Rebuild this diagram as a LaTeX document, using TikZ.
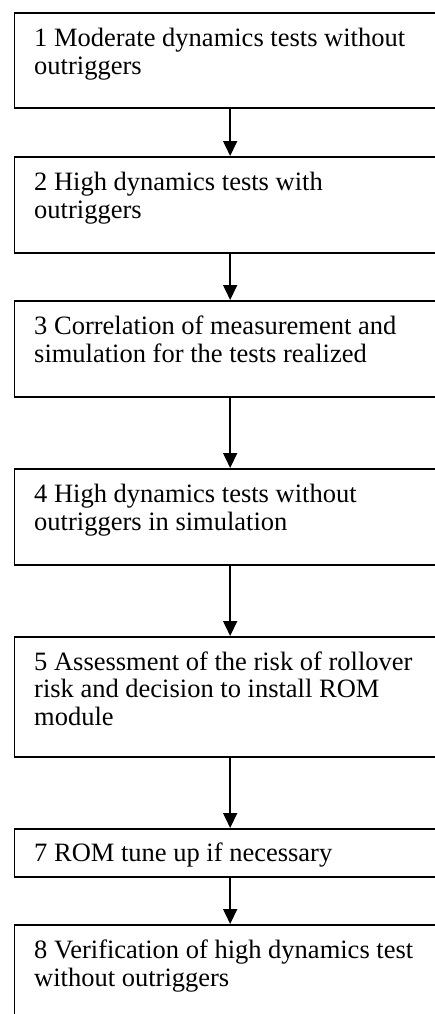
\documentclass[tikz,border=0pt]{standalone}
\usepackage{fontspec}
\setmainfont{Liberation Serif}
\usetikzlibrary{arrows.meta,calc}
\begin{document}
\begin{tikzpicture}[x=1pt,y=-1pt,
  stepbox/.style={draw=black,line width=1.8pt,rectangle,inner sep=0pt,anchor=north west,minimum width=431.5pt},
  steptext/.style={inner sep=0pt,anchor=base west,font=\fontsize{26.5}{28}\selectfont},
  arr/.style={draw=black,line width=1.6pt,-{Triangle[length=15pt,width=14pt]}}]
\useasboundingbox (0,0) rectangle (435,1014);
\clip (0,0) rectangle (435,1014);
\fill[white] (0,0) rectangle (435,1014);
\node[stepbox,minimum height=95pt] (b1) at (13.5,12) {};
\node[stepbox,minimum height=96pt] (b2) at (13.5,156) {};
\node[stepbox,minimum height=96pt] (b3) at (13.5,300) {};
\node[stepbox,minimum height=96pt] (b4) at (13.5,468) {};
\node[stepbox,minimum height=120pt] (b5) at (13.5,636) {};
\node[stepbox,minimum height=48pt] (b7) at (13.5,828) {};
\node[stepbox,minimum height=110pt] (b8) at (13.5,924) {};
\node[steptext] (t1) at ($(b1.north west)+(20.5,35)$) {\parbox[t]{400pt}{\fontsize{26.5}{28}\selectfont 1 Moderate dynamics tests without\\outriggers}};
\node[steptext] (t2) at ($(b2.north west)+(20.5,34)$) {\parbox[t]{400pt}{\fontsize{26.5}{28}\selectfont 2 High dynamics tests with\\outriggers}};
\node[steptext] (t3) at ($(b3.north west)+(20.5,34)$) {\parbox[t]{400pt}{\fontsize{26.5}{28}\selectfont 3 Correlation of measurement and\\simulation for the tests realized}};
\node[steptext] (t4) at ($(b4.north west)+(20.5,34)$) {\parbox[t]{400pt}{\fontsize{26.5}{28}\selectfont 4 High dynamics tests without\\outriggers in simulation}};
\node[steptext] (t5) at ($(b5.north west)+(20.5,34)$) {\parbox[t]{400pt}{\fontsize{26.5}{27.5}\selectfont 5 Assessment of the risk of rollover\\risk and decision to install ROM\\module}};
\node[steptext] (t7) at ($(b7.north west)+(20.5,33)$) {\parbox[t]{400pt}{\fontsize{26.5}{28}\selectfont 7 ROM tune up if necessary}};
\node[steptext] (t8) at ($(b8.north west)+(20.5,34)$) {\parbox[t]{400pt}{\fontsize{26.5}{28}\selectfont 8 Verification of high dynamics test\\without outriggers}};
\draw[arr] (b1.south) -- (b2.north);
\draw[arr] (b2.south) -- (b3.north);
\draw[arr] (b3.south) -- (b4.north);
\draw[arr] (b4.south) -- (b5.north);
\draw[arr] (b5.south) -- (b7.north);
\draw[arr] (b7.south) -- (b8.north);
\end{tikzpicture}
\end{document}
